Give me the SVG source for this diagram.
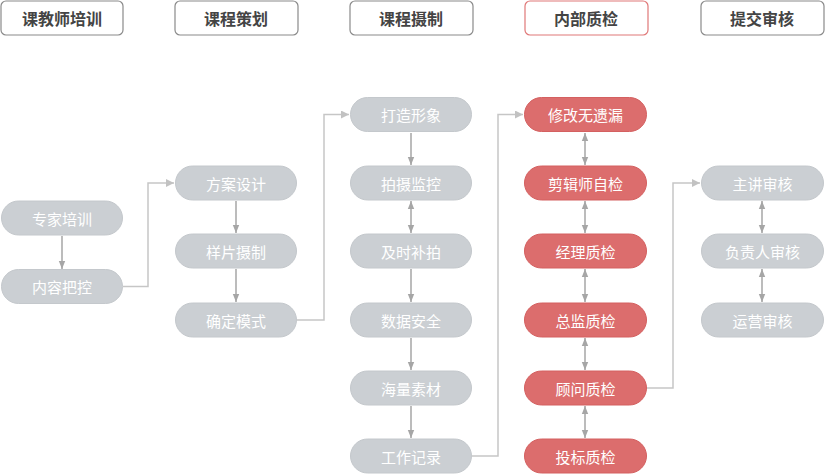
<svg xmlns="http://www.w3.org/2000/svg" width="825" height="474" viewBox="0 0 825 474">
<defs>
<style>
.hdr rect{fill:#fff;stroke:#8a8a8a;stroke-width:1.2}
.hdr.red rect{stroke:#e07878}
.hdr text{font-family:"Noto Sans CJK SC","Noto Sans",sans-serif;font-size:16px;font-weight:bold;fill:#444;text-anchor:middle;dominant-baseline:central}
.n rect{fill:#cbcfd3;stroke:#c4c8cc;stroke-width:1}
.n.r rect{fill:#dc6d6d;stroke:#d46060}
.n text{font-family:"Noto Sans CJK SC","Noto Sans",sans-serif;font-size:15px;fill:#fff;text-anchor:middle;dominant-baseline:central}
.el{fill:none;stroke:#c6c6c6;stroke-width:1.5}
.v{fill:none;stroke:#a6a6a6;stroke-width:1.5}
</style>
<marker id="ae" viewBox="0 0 10 10" refX="10" refY="5" markerWidth="8" markerHeight="8" markerUnits="userSpaceOnUse" orient="auto">
<path d="M0,0 L10,5 L0,10 z" fill="#c2c2c2"/>
</marker>
<marker id="av" viewBox="0 0 10 10" refX="10" refY="5" markerWidth="8" markerHeight="8" markerUnits="userSpaceOnUse" orient="auto-start-reverse">
<path d="M0,1 L10,5 L0,9 z" fill="#a6a6a6"/>
</marker>
</defs>

<g id="headers">
<g id="h1" class="hdr"><rect x="1" y="1" width="122" height="34" rx="5"/><text x="62" y="18">课教师培训</text></g>
<g id="h2" class="hdr"><rect x="175" y="1" width="123" height="34" rx="5"/><text x="236" y="18">课程策划</text></g>
<g id="h3" class="hdr"><rect x="350" y="1" width="123" height="34" rx="5"/><text x="411" y="18">课程摄制</text></g>
<g id="h4" class="hdr red"><rect x="525" y="1" width="123" height="34" rx="5"/><text x="586" y="18">内部质检</text></g>
<g id="h5" class="hdr"><rect x="701" y="1" width="123" height="34" rx="5"/><text x="762" y="18">提交审核</text></g>
</g>

<g id="connectors">
<path class="el" d="M123,286.5 H148 V183 H174" marker-end="url(#ae)"/>
<path class="el" d="M297,320 H324 V114.5 H349" marker-end="url(#ae)"/>
<path class="el" d="M472,456 H498 V114.5 H523" marker-end="url(#ae)"/>
<path class="el" d="M647,388 H673 V183 H700" marker-end="url(#ae)"/>

<path class="v" d="M62,236 V269" marker-end="url(#av)"/>
<path class="v" d="M236,201 V233" marker-end="url(#av)"/>
<path class="v" d="M236,269 V302" marker-end="url(#av)"/>

<path class="v" d="M411,133 V165" marker-end="url(#av)"/>
<path class="v" d="M411,201 V233" marker-start="url(#av)" marker-end="url(#av)"/>
<path class="v" d="M411,269 V302" marker-end="url(#av)"/>
<path class="v" d="M411,338 V370" marker-end="url(#av)"/>
<path class="v" d="M411,406 V438" marker-end="url(#av)"/>

<path class="v" d="M585,133 V165" marker-start="url(#av)" marker-end="url(#av)"/>
<path class="v" d="M585,201 V233" marker-start="url(#av)" marker-end="url(#av)"/>
<path class="v" d="M585,269 V302" marker-start="url(#av)" marker-end="url(#av)"/>
<path class="v" d="M585,338 V370" marker-start="url(#av)" marker-end="url(#av)"/>
<path class="v" d="M585,406 V438" marker-start="url(#av)" marker-end="url(#av)"/>

<path class="v" d="M762,201 V233" marker-start="url(#av)" marker-end="url(#av)"/>
<path class="v" d="M762,269 V302" marker-start="url(#av)" marker-end="url(#av)"/>
</g>

<g id="n-zjpx" class="n"><rect x="1.5" y="201" width="121" height="34" rx="17"/><text x="62" y="218">专家培训</text></g>
<g id="n-nrbk" class="n"><rect x="1.5" y="269.5" width="121" height="34" rx="17"/><text x="62" y="286.5">内容把控</text></g>

<g id="n-fasj" class="n"><rect x="175.5" y="166" width="121" height="34" rx="17"/><text x="236" y="183">方案设计</text></g>
<g id="n-ypsz" class="n"><rect x="175.5" y="234" width="121" height="34" rx="17"/><text x="236" y="251">样片摄制</text></g>
<g id="n-qdms" class="n"><rect x="175.5" y="303" width="121" height="34" rx="17"/><text x="236" y="320">确定模式</text></g>

<g id="n-dzxx" class="n"><rect x="350.5" y="97.5" width="121" height="34" rx="17"/><text x="411" y="114.5">打造形象</text></g>
<g id="n-psjk" class="n"><rect x="350.5" y="166" width="121" height="34" rx="17"/><text x="411" y="183">拍摄监控</text></g>
<g id="n-jsbp" class="n"><rect x="350.5" y="234" width="121" height="34" rx="17"/><text x="411" y="251">及时补拍</text></g>
<g id="n-sjaq" class="n"><rect x="350.5" y="303" width="121" height="34" rx="17"/><text x="411" y="320">数据安全</text></g>
<g id="n-hlsc" class="n"><rect x="350.5" y="371" width="121" height="34" rx="17"/><text x="411" y="388">海量素材</text></g>
<g id="n-gzjl" class="n"><rect x="350.5" y="439" width="121" height="34" rx="17"/><text x="411" y="456">工作记录</text></g>

<g id="n-xgwyl" class="n r"><rect x="524.5" y="97.5" width="122" height="34" rx="17"/><text x="585.5" y="114.5">修改无遗漏</text></g>
<g id="n-jjszj" class="n r"><rect x="524.5" y="166" width="122" height="34" rx="17"/><text x="585.5" y="183">剪辑师自检</text></g>
<g id="n-jlzj" class="n r"><rect x="524.5" y="234" width="122" height="34" rx="17"/><text x="585.5" y="251">经理质检</text></g>
<g id="n-zjzj" class="n r"><rect x="524.5" y="303" width="122" height="34" rx="17"/><text x="585.5" y="320">总监质检</text></g>
<g id="n-gwzj" class="n r"><rect x="524.5" y="371" width="122" height="34" rx="17"/><text x="585.5" y="388">顾问质检</text></g>
<g id="n-tbzj" class="n r"><rect x="524.5" y="439" width="122" height="34" rx="17"/><text x="585.5" y="456">投标质检</text></g>

<g id="n-zjsh" class="n"><rect x="701.5" y="166" width="122" height="34" rx="17"/><text x="762.5" y="183">主讲审核</text></g>
<g id="n-fzrsh" class="n"><rect x="701.5" y="234" width="122" height="34" rx="17"/><text x="762.5" y="251">负责人审核</text></g>
<g id="n-yysh" class="n"><rect x="701.5" y="303" width="122" height="34" rx="17"/><text x="762.5" y="320">运营审核</text></g>
</svg>
